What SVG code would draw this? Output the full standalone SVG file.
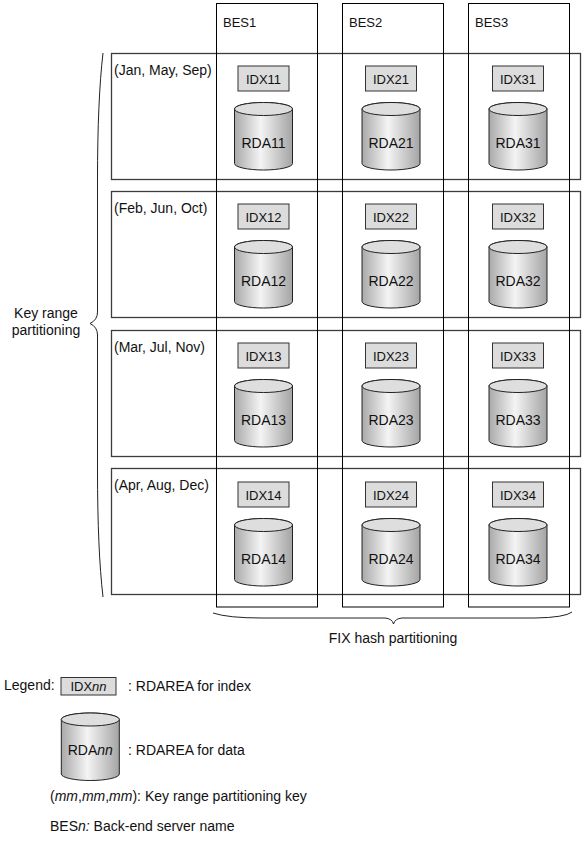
<svg xmlns="http://www.w3.org/2000/svg" width="585" height="844" viewBox="0 0 585 844">
<defs>
<linearGradient id="cylg" x1="0" y1="0" x2="1" y2="0">
<stop offset="0" stop-color="#a9a9a9"/>
<stop offset="0.45" stop-color="#f4f4f4"/>
<stop offset="1" stop-color="#a4a4a4"/>
</linearGradient>
<g id="cyl">
<path d="M-29,0 A29,6.5 0 0 1 29,0 V54.5 A29,6.5 0 0 1 -29,54.5 Z" fill="url(#cylg)" stroke="#222" stroke-width="1"/>
<ellipse cx="0" cy="0" rx="29" ry="6.5" fill="#dedede" stroke="#222" stroke-width="1"/>
</g>
</defs>
<style>
text{font-family:"Liberation Sans",Arial,sans-serif;font-size:14px;fill:#111}
.c{text-anchor:middle}
.s{font-size:13px}
.row{fill:none;stroke:#3c3c3c;stroke-width:1.3}
.col{fill:none;stroke:#000;stroke-width:1}
.idx{fill:#dcdcdc;stroke:#333;stroke-width:1}
.br{fill:none;stroke:#222;stroke-width:1}
</style>
<rect width="585" height="844" fill="#fff"/>
<g id="rows">
<rect class="row" x="111.5" y="53.5" width="469" height="126"/>
<rect class="row" x="111.5" y="191.5" width="469" height="126"/>
<rect class="row" x="111.5" y="330.5" width="469" height="126"/>
<rect class="row" x="111.5" y="468.5" width="469" height="126"/>
<text x="114" y="75">(Jan, May, Sep)</text>
<text x="114" y="213">(Feb, Jun, Oct)</text>
<text x="114" y="352">(Mar, Jul, Nov)</text>
<text x="114" y="490">(Apr, Aug, Dec)</text>
</g>
<g id="columns">
<rect class="col" x="216.5" y="3.5" width="101" height="603.5"/>
<rect class="col" x="342.5" y="3.5" width="101" height="603.5"/>
<rect class="col" x="468.5" y="3.5" width="101" height="603.5"/>
<text class="s" x="223" y="27">BES1</text>
<text class="s" x="349" y="27">BES2</text>
<text class="s" x="475" y="27">BES3</text>
</g>
<g id="row1">
<rect class="idx" x="238" y="66" width="51" height="25"/><text class="c s" x="263.5" y="83.5">IDX11</text>
<rect class="idx" x="365.5" y="66" width="51" height="25"/><text class="c s" x="391" y="83.5">IDX21</text>
<rect class="idx" x="492.5" y="66" width="51" height="25"/><text class="c s" x="518" y="83.5">IDX31</text>
<use href="#cyl" x="263.5" y="109"/><text class="c" x="263.5" y="148">RDA11</text>
<use href="#cyl" x="391" y="109"/><text class="c" x="391" y="148">RDA21</text>
<use href="#cyl" x="518" y="109"/><text class="c" x="518" y="148">RDA31</text>
</g>
<g id="row2">
<rect class="idx" x="238" y="204" width="51" height="25"/><text class="c s" x="263.5" y="221.5">IDX12</text>
<rect class="idx" x="365.5" y="204" width="51" height="25"/><text class="c s" x="391" y="221.5">IDX22</text>
<rect class="idx" x="492.5" y="204" width="51" height="25"/><text class="c s" x="518" y="221.5">IDX32</text>
<use href="#cyl" x="263.5" y="247"/><text class="c" x="263.5" y="286">RDA12</text>
<use href="#cyl" x="391" y="247"/><text class="c" x="391" y="286">RDA22</text>
<use href="#cyl" x="518" y="247"/><text class="c" x="518" y="286">RDA32</text>
</g>
<g id="row3">
<rect class="idx" x="238" y="343" width="51" height="25"/><text class="c s" x="263.5" y="360.5">IDX13</text>
<rect class="idx" x="365.5" y="343" width="51" height="25"/><text class="c s" x="391" y="360.5">IDX23</text>
<rect class="idx" x="492.5" y="343" width="51" height="25"/><text class="c s" x="518" y="360.5">IDX33</text>
<use href="#cyl" x="263.5" y="386"/><text class="c" x="263.5" y="425">RDA13</text>
<use href="#cyl" x="391" y="386"/><text class="c" x="391" y="425">RDA23</text>
<use href="#cyl" x="518" y="386"/><text class="c" x="518" y="425">RDA33</text>
</g>
<g id="row4">
<rect class="idx" x="238" y="482" width="51" height="25"/><text class="c s" x="263.5" y="499.5">IDX14</text>
<rect class="idx" x="365.5" y="482" width="51" height="25"/><text class="c s" x="391" y="499.5">IDX24</text>
<rect class="idx" x="492.5" y="482" width="51" height="25"/><text class="c s" x="518" y="499.5">IDX34</text>
<use href="#cyl" x="263.5" y="525"/><text class="c" x="263.5" y="564">RDA14</text>
<use href="#cyl" x="391" y="525"/><text class="c" x="391" y="564">RDA24</text>
<use href="#cyl" x="518" y="525"/><text class="c" x="518" y="564">RDA34</text>
</g>
<g id="braces">
<path class="br" d="M103,53 Q97.5,100 97.5,180 L97.5,312 Q97.5,320 90,323.5 Q97.5,327 97.5,335 L97.5,470 Q97.5,550 103,597"/>
<text class="c" x="46" y="318">Key range</text>
<text class="c" x="46" y="335">partitioning</text>
<path class="br" d="M213,613 Q228,618 262,618 L385,618 Q392,618.5 393.5,624 Q395,618.5 402,618 L535,618 Q565,617.5 572,612"/>
<text class="c" x="393" y="643">FIX hash partitioning</text>
</g>
<g id="legend">
<text x="4" y="690">Legend:</text>
<rect class="idx" x="61" y="677.5" width="55" height="17.5"/>
<text class="c s" x="88.5" y="690.5">IDX<tspan font-style="italic">nn</tspan></text>
<text x="128" y="691">: RDAREA for index</text>
<use href="#cyl" x="90.3" y="719.5"/>
<text class="c" x="90.3" y="755">RDA<tspan font-style="italic">nn</tspan></text>
<text x="128" y="755">: RDAREA for data</text>
<text x="50" y="801">(<tspan font-style="italic">mm</tspan>,<tspan font-style="italic">mm</tspan>,<tspan font-style="italic">mm</tspan>): Key range partitioning key</text>
<text x="50" y="831">BES<tspan font-style="italic">n:</tspan> Back-end server name</text>
</g>
</svg>
